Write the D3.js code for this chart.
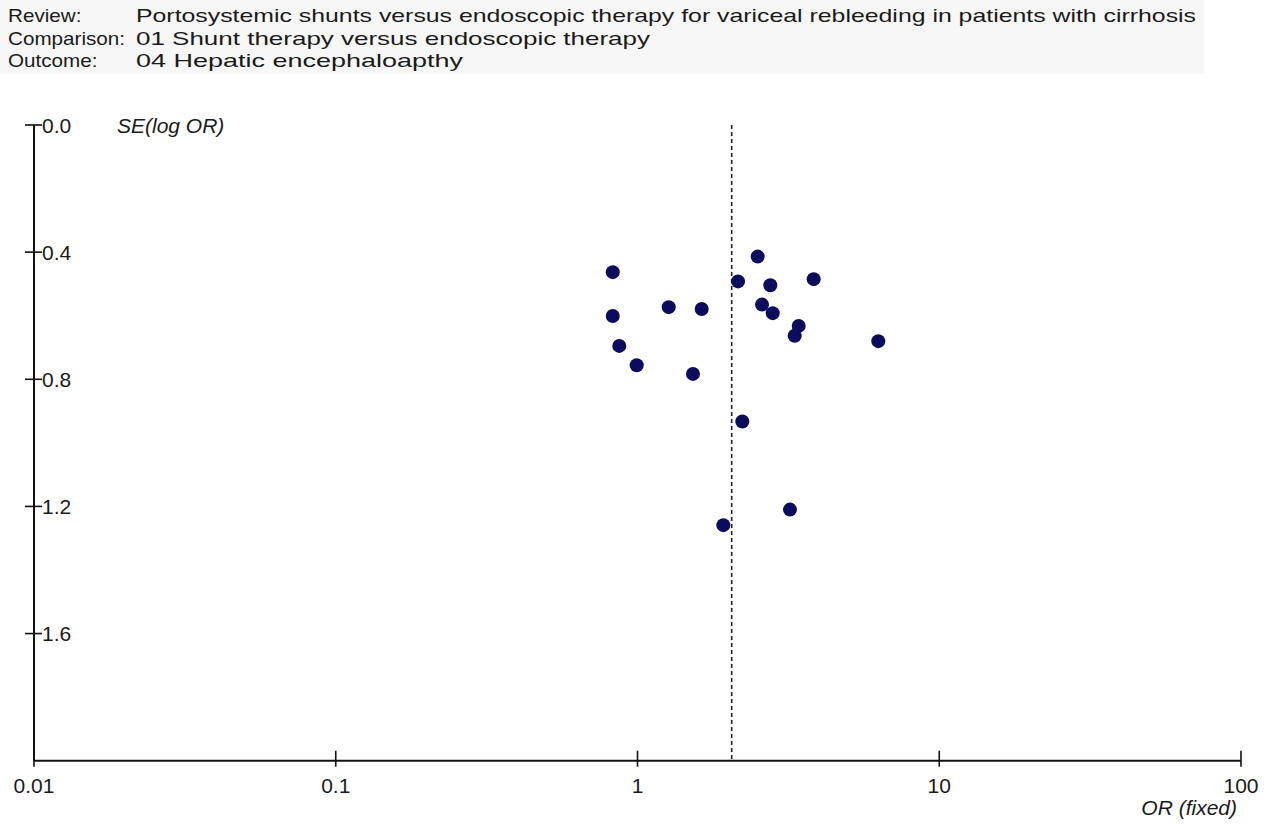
<!DOCTYPE html>
<html>
<head>
<meta charset="utf-8">
<script src="https://cdn.jsdelivr.net/npm/d3@7"></script>
<style>
  html, body { margin: 0; padding: 0; background: #ffffff; }
  svg { display: block; }
  text { font-family: "Liberation Sans", Arial, sans-serif; fill: #1a1a1a; }
</style>
</head>
<body>
<svg id="chart" width="1271" height="826"></svg>
<script>
// Header block
const headerLabels = ["Review:", "Comparison:", "Outcome:"];
const headerValues = [
  "Portosystemic shunts versus endoscopic therapy for variceal rebleeding in patients with cirrhosis",
  "01 Shunt therapy versus endoscopic therapy",
  "04 Hepatic encephaloapthy"
];

// Study estimates: odds ratio and standard error of log OR
const studyOR = [0.828, 2.502, 2.154, 2.755, 3.836, 0.828, 1.269, 1.632, 2.586, 2.806,
                 3.422, 3.319, 6.281, 0.870, 0.994, 1.527, 2.225, 3.201, 1.925];
const studySE = [0.463, 0.414, 0.492, 0.504, 0.485, 0.601, 0.573, 0.579, 0.565, 0.592,
                 0.632, 0.663, 0.680, 0.695, 0.756, 0.783, 0.933, 1.210, 1.259];

// Pooled fixed-effect odds ratio
const pooledOR = 2.052;

// Axis ticks
const xTicks = [0.01, 0.1, 1, 10, 100];
const xTickLabels = ["0.01", "0.1", "1", "10", "100"];
const yTicks = [0.0, 0.4, 0.8, 1.2, 1.6];
const yTickLabels = ["0.0", "0.4", "0.8", "1.2", "1.6"];

const svg = d3.select("#chart");

// header background band
svg.append("rect")
  .attr("x", 0).attr("y", 0).attr("width", 1204).attr("height", 74)
  .attr("fill", "#f7f7f7");

// Header rows: label column and value column
const headerBaselines = [22, 45, 67];
const headerFont = 18.5;
const valueWidths = [1060, 514, 327];
const labelNodes = headerLabels.map((lab, i) => svg.append("text")
  .attr("x", 8).attr("y", headerBaselines[i])
  .attr("font-size", headerFont)
  .text(lab));
// widen the label column uniformly so "Comparison:" fills it
const labelStretch = 117 / labelNodes[1].node().getComputedTextLength();
labelNodes.forEach(t => {
  t.attr("textLength", t.node().getComputedTextLength() * labelStretch)
   .attr("lengthAdjust", "spacingAndGlyphs");
});
headerValues.forEach((val, i) => {
  svg.append("text")
    .attr("x", 136).attr("y", headerBaselines[i])
    .attr("font-size", headerFont)
    .attr("textLength", valueWidths[i])
    .attr("lengthAdjust", "spacingAndGlyphs")
    .text(val);
});

// Scales
const x = d3.scaleLog().domain([0.01, 100]).range([34, 1241]);
const y = d3.scaleLinear().domain([0, 2.0]).range([125, 760.7]);

const axisColor = "#111";

// Y axis line and ticks
const yAxis = svg.append("g");
yAxis.append("line")
  .attr("x1", x(0.01)).attr("x2", x(0.01))
  .attr("y1", y(0)).attr("y2", y(2.0))
  .attr("stroke", axisColor).attr("stroke-width", 2);
yAxis.selectAll("line.tick").data(yTicks).join("line")
  .attr("class", "tick")
  .attr("x1", x(0.01) - 9).attr("x2", x(0.01) + 8)
  .attr("y1", d => y(d)).attr("y2", d => y(d))
  .attr("stroke", axisColor).attr("stroke-width", 1.6);
yAxis.selectAll("text").data(yTicks).join("text")
  .attr("x", x(0.01) + 8)
  .attr("y", d => y(d))
  .attr("dy", "0.36em")
  .attr("font-size", 21)
  .text((d, i) => yTickLabels[i]);

svg.append("text")
  .attr("x", 117).attr("y", y(0))
  .attr("dy", "0.36em")
  .attr("font-size", 21)
  .attr("font-style", "italic")
  .text("SE(log OR)");

// X axis line and ticks
const xAxis = svg.append("g");
xAxis.append("line")
  .attr("x1", x(0.01)).attr("x2", x(100))
  .attr("y1", y(2.0)).attr("y2", y(2.0))
  .attr("stroke", axisColor).attr("stroke-width", 2);
xAxis.selectAll("line.tick").data(xTicks).join("line")
  .attr("class", "tick")
  .attr("x1", d => x(d)).attr("x2", d => x(d))
  .attr("y1", y(2.0) - 10).attr("y2", y(2.0) + 6)
  .attr("stroke", axisColor).attr("stroke-width", 1.6);
xAxis.selectAll("text").data(xTicks).join("text")
  .attr("x", d => x(d))
  .attr("y", 793)
  .attr("text-anchor", "middle")
  .attr("font-size", 21)
  .text((d, i) => xTickLabels[i]);

svg.append("text")
  .attr("x", 1237).attr("y", 815)
  .attr("text-anchor", "end")
  .attr("font-size", 21)
  .attr("font-style", "italic")
  .text("OR (fixed)");

// Pooled estimate reference line
svg.append("line")
  .attr("x1", x(pooledOR)).attr("x2", x(pooledOR))
  .attr("y1", y(0)).attr("y2", y(2.0))
  .attr("stroke", "#222").attr("stroke-width", 1.6)
  .attr("stroke-dasharray", "4,3");

// Study points
const studies = studyOR.map((or, i) => ({ or, se: studySE[i] }));
svg.append("g").selectAll("circle").data(studies).join("circle")
  .attr("cx", d => x(d.or))
  .attr("cy", d => y(d.se))
  .attr("r", 7)
  .attr("fill", "#0c0c5c");
</script>
</body>
</html>
